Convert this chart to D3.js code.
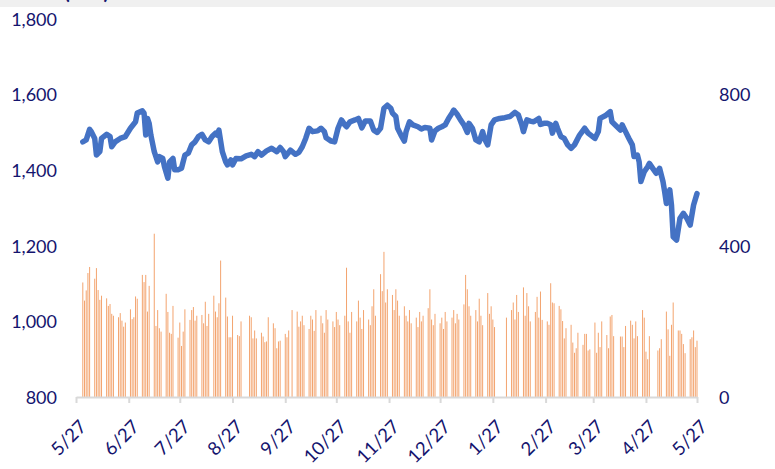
<!DOCTYPE html>
<html><head><meta charset="utf-8">
<script src="https://cdn.jsdelivr.net/npm/d3@7"></script>
<style>
html,body{margin:0;padding:0;background:#fff;}
svg{display:block;font-family:Lato,"Open Sans",sans-serif;}
</style></head>
<body>
<svg id="chart" width="775" height="469"></svg>
<script>
// ---- Data ----
const titleText = "Index (JPY)";
const xTickLabels = ["5/27","6/27","7/27","8/27","9/27","10/27","11/27","12/27","1/27","2/27","3/27","4/27","5/27"];
const xTickDates = ["2021-05-27","2021-06-27","2021-07-27","2021-08-27","2021-09-27","2021-10-27","2021-11-27","2021-12-27","2022-01-27","2022-02-27","2022-03-27","2022-04-27","2022-05-27"];
const leftTicks = [800,1000,1200,1400,1600,1800];
const rightTicks = [0,400,800];

const lineDates = ["2021-05-31","2021-06-02","2021-06-04","2021-06-05","2021-06-07","2021-06-08","2021-06-10","2021-06-11","2021-06-14","2021-06-16","2021-06-17","2021-06-19","2021-06-22","2021-06-25","2021-06-28","2021-07-01","2021-07-02","2021-07-05","2021-07-06","2021-07-07","2021-07-08","2021-07-09","2021-07-10","2021-07-12","2021-07-14","2021-07-15","2021-07-17","2021-07-18","2021-07-20","2021-07-21","2021-07-23","2021-07-24","2021-07-26","2021-07-28","2021-07-30","2021-08-01","2021-08-03","2021-08-05","2021-08-07","2021-08-09","2021-08-11","2021-08-13","2021-08-15","2021-08-17","2021-08-18","2021-08-19","2021-08-21","2021-08-23","2021-08-24","2021-08-26","2021-08-27","2021-08-29","2021-09-01","2021-09-04","2021-09-07","2021-09-09","2021-09-11","2021-09-13","2021-09-16","2021-09-19","2021-09-22","2021-09-24","2021-09-26","2021-09-27","2021-09-30","2021-10-03","2021-10-05","2021-10-07","2021-10-09","2021-10-11","2021-10-13","2021-10-16","2021-10-18","2021-10-20","2021-10-21","2021-10-24","2021-10-26","2021-10-28","2021-10-30","2021-11-01","2021-11-02","2021-11-04","2021-11-07","2021-11-09","2021-11-11","2021-11-13","2021-11-16","2021-11-18","2021-11-20","2021-11-22","2021-11-24","2021-11-26","2021-11-28","2021-11-29","2021-12-01","2021-12-02","2021-12-04","2021-12-06","2021-12-07","2021-12-09","2021-12-11","2021-12-14","2021-12-16","2021-12-18","2021-12-21","2021-12-22","2021-12-24","2021-12-26","2021-12-28","2021-12-30","2022-01-01","2022-01-03","2022-01-04","2022-01-06","2022-01-08","2022-01-10","2022-01-12","2022-01-13","2022-01-15","2022-01-17","2022-01-19","2022-01-21","2022-01-22","2022-01-24","2022-01-26","2022-01-28","2022-01-31","2022-02-03","2022-02-06","2022-02-09","2022-02-11","2022-02-13","2022-02-14","2022-02-16","2022-02-18","2022-02-20","2022-02-23","2022-02-24","2022-02-26","2022-02-28","2022-03-02","2022-03-03","2022-03-05","2022-03-06","2022-03-08","2022-03-10","2022-03-12","2022-03-14","2022-03-16","2022-03-19","2022-03-22","2022-03-24","2022-03-28","2022-03-30","2022-03-31","2022-04-03","2022-04-06","2022-04-07","2022-04-10","2022-04-12","2022-04-13","2022-04-15","2022-04-17","2022-04-19","2022-04-20","2022-04-22","2022-04-23","2022-04-24","2022-04-26","2022-04-28","2022-04-29","2022-05-01","2022-05-03","2022-05-05","2022-05-07","2022-05-08","2022-05-09","2022-05-11","2022-05-12","2022-05-13","2022-05-15","2022-05-17","2022-05-19","2022-05-21","2022-05-23","2022-05-25","2022-05-27"];
const lineValues = [1475,1480,1508,1502,1484,1440,1449,1484,1495,1489,1462,1475,1484,1489,1511,1528,1551,1557,1551,1493,1537,1524,1493,1449,1422,1436,1431,1409,1379,1422,1431,1401,1401,1405,1440,1445,1467,1475,1489,1495,1480,1475,1489,1498,1493,1506,1449,1422,1414,1427,1414,1431,1430,1438,1442,1436,1449,1440,1451,1458,1449,1460,1449,1436,1453,1442,1447,1462,1484,1511,1502,1504,1511,1502,1486,1477,1475,1511,1533,1520,1515,1528,1533,1537,1512,1530,1530,1506,1500,1511,1564,1572,1564,1551,1542,1511,1493,1477,1502,1528,1520,1515,1509,1513,1511,1480,1504,1511,1515,1520,1537,1551,1559,1548,1533,1520,1500,1524,1511,1480,1475,1502,1484,1467,1520,1533,1537,1539,1542,1553,1546,1520,1502,1533,1530,1528,1537,1521,1524,1524,1520,1498,1524,1511,1489,1484,1467,1458,1467,1493,1511,1498,1484,1502,1537,1544,1555,1528,1515,1506,1520,1502,1484,1467,1436,1440,1422,1370,1396,1409,1418,1405,1392,1405,1370,1343,1312,1348,1308,1224,1215,1273,1286,1273,1255,1308,1338];

// Volume bars: one row per trading week (Mon..Fri), null = no trading
const barFirstMonday = "2021-05-31";
const barValues = [
 [303,255,282,328,344],[313,341,283,257,268],[261,241,246,220,215],[211,222,202,186,197],
 [232,206,211,266,260],[323,304,323,226,294],[432,188,230,182,173],[273,225,170,167,241],
 [157,197,135,173,232],[204,230,238,202,215],[217,195,252,188,220],[268,226,211,248,361],
 [263,213,158,158,215],[164,161,200,null,null],[215,211,155,176,155],[170,160,145,147,211],
 [195,182,129,147,149],[167,158,176,null,230],[226,186,200,215,190],[180,215,205,175,230],
 [215,195,170,230,205],[200,185,225,205,190],[215,342,200,170,225],[200,255,210,180,230],
 [205,190,240,285,215],[325,280,384,250,285],[270,230,285,255,215],[240,215,200,230,195],
 [210,185,225,200,215],[235,285,205,190,220],[195,210,180,225,200],[210,230,195,220,205],
 [245,323,285,240,215],[230,200,260,215,190],[275,220,240,205,185],[null,null,null,null,210],
 [230,250,205,270,225],[290,215,275,240,200],[225,265,210,279,204],[200,191,301,250,248],
 [241,232,201,155,182],[191,144,117,129,170],[138,167,167,123,126],[197,117,170,132,200],
 [164,129,213,217,161],[null,160,160,132,188],[202,191,155,200,161],[230,210,120,100,161],
 [null,null,123,129,153],[226,179,109,191,250],[176,176,167,140,116],[153,158,176,132,149]
];

// ---- Chart ----
const parse = d3.timeParse("%Y-%m-%d");
const svg = d3.select("#chart");
const W = 775, H = 469;
const plot = {left: 76, right: 697, top: 19, bottom: 397};

const x = d3.scaleTime()
  .domain([parse(xTickDates[0]), parse(xTickDates[xTickDates.length-1])])
  .range([plot.left, plot.right]);
const yL = d3.scaleLinear().domain([800,1800]).range([plot.bottom, plot.top]);
const yR = d3.scaleLinear().domain([0,1000]).range([plot.bottom, plot.top]);

// top band with clipped title (cut off in the reference as well)
svg.append("rect").attr("x",0).attr("y",0).attr("width",W).attr("height",7).attr("fill","#f0f0f0");
svg.append("text").attr("x",10).attr("y",-1).attr("font-size",20).attr("font-weight","bold")
  .attr("fill","#14146e").text(titleText);

// bars
const monday = parse(barFirstMonday);
const bars = [];
barValues.forEach((week, wi) => {
  week.forEach((v, di) => {
    if (v == null) return;
    bars.push({date: d3.timeDay.offset(monday, wi*7 + di), value: v});
  });
});
svg.append("g").selectAll("rect").data(bars).join("rect")
  .attr("x", d => x(d.date) - 0.5)
  .attr("width", 1)
  .attr("y", d => yR(d.value))
  .attr("height", d => yR(0) - yR(d.value))
  .attr("fill", "#f3a46f");

// x axis
const xAxis = d3.axisBottom(x)
  .tickValues(xTickDates.map(parse))
  .tickFormat((d,i) => xTickLabels[i])
  .tickSizeOuter(0).tickSizeInner(6);
const gx = svg.append("g").attr("transform", `translate(0,${plot.bottom})`).call(xAxis);
gx.select(".domain").attr("stroke","#d9d9d9").attr("stroke-width",2);
gx.selectAll(".tick line").attr("stroke","#d9d9d9").attr("stroke-width",2);
gx.selectAll(".tick text")
  .attr("font-size",18.5).attr("fill","#14146e").attr("font-family","Lato, sans-serif")
  .attr("text-anchor","end")
  .attr("dy",null).attr("y",null)
  .attr("transform","translate(11,31) rotate(-45)");

// left axis
const gl = svg.append("g").attr("transform", `translate(${plot.left-19},0)`)
  .call(d3.axisLeft(yL).tickValues(leftTicks).tickFormat(d3.format(",")).tickSize(0));
gl.select(".domain").remove();
gl.selectAll(".tick text").attr("font-size",18).attr("fill","#14146e")
  .attr("font-family","Lato, sans-serif").attr("x",0).attr("dy","0.35em");

// right axis
const gr = svg.append("g").attr("transform", `translate(${plot.right+22},0)`)
  .call(d3.axisRight(yR).tickValues(rightTicks).tickSize(0));
gr.select(".domain").remove();
gr.selectAll(".tick text").attr("font-size",18).attr("fill","#14146e")
  .attr("font-family","Lato, sans-serif").attr("x",0).attr("dy","0.35em");

// line
const lineData = lineDates.map((d,i) => ({date: parse(d), value: lineValues[i]}));
svg.append("path").datum(lineData)
  .attr("fill","none").attr("stroke","#4472c4").attr("stroke-width",5.5)
  .attr("stroke-linejoin","round").attr("stroke-linecap","round")
  .attr("d", d3.line().x(d => x(d.date)).y(d => yL(d.value)));
</script>
</body></html>
